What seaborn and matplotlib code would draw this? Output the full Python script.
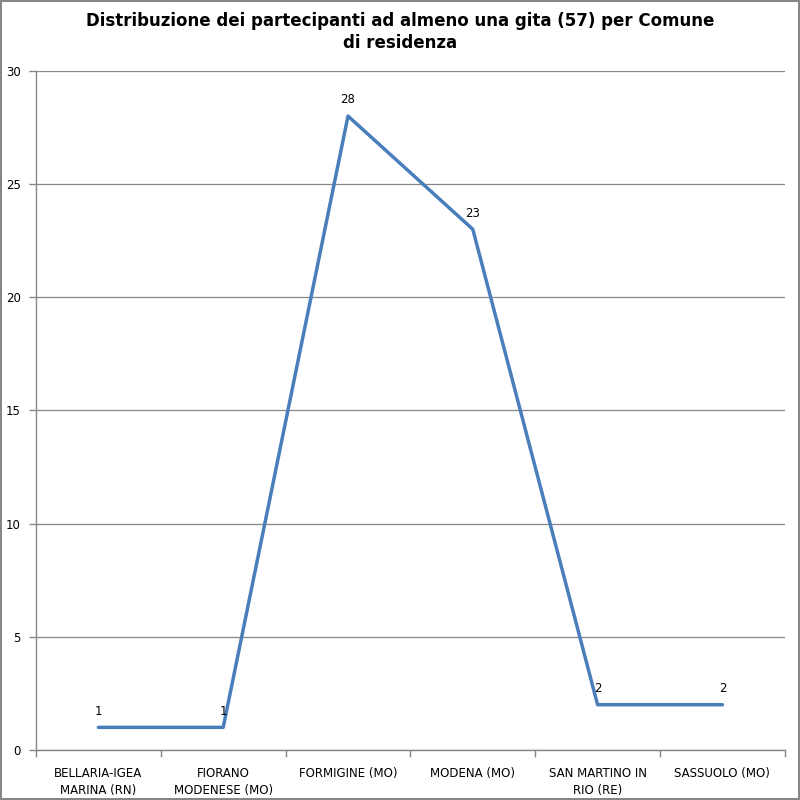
import seaborn as sns
import matplotlib.pyplot as plt
import numpy as np
import pandas as pd

# dati
comuni = ['BELLARIA-IGEA\nMARINA (RN)', 'FIORANO\nMODENESE (MO)', 'FORMIGINE (MO)',
          'MODENA (MO)', 'SAN MARTINO IN\nRIO (RE)', 'SASSUOLO (MO)']
partecipanti = [1, 1, 28, 23, 2, 2]
y_ticks = [0, 5, 10, 15, 20, 25, 30]

titolo = 'Distribuzione dei partecipanti ad almeno una gita (57) per Comune\ndi residenza'

sns.set_style('white')
plt.rcParams['font.family'] = ['DejaVu Sans']
plt.rcParams['text.color'] = 'black'
plt.rcParams['xtick.color'] = 'black'
plt.rcParams['ytick.color'] = 'black'

df = pd.DataFrame({'pos': np.arange(len(comuni)), 'valore': partecipanti})

fig = plt.figure(figsize=(8, 8), dpi=100)
fig.patch.set_edgecolor('#868686')
fig.patch.set_linewidth(1.5)
ax = fig.add_axes([0.045, 0.0625, 0.936, 0.849])

sns.lineplot(data=df, x='pos', y='valore', ax=ax, color='#4a7ebb', linewidth=2.5,
             sort=False)

# etichette dei valori
for x, y in zip(df['pos'], df['valore']):
    ax.annotate(f'{y}', xy=(x, y), xytext=(0, 7), textcoords='offset points',
                ha='center', va='bottom', fontsize=8.5, color='black')

ax.set_xlim(-0.5, len(comuni) - 0.5)
ax.set_ylim(0, 30)
ax.set_yticks(y_ticks)
ax.set_xticks(df['pos'])
ax.set_xticklabels(comuni, fontsize=8.5, linespacing=1.4)
ax.set_xticks(np.arange(-0.5, len(comuni)), minor=True)
ax.tick_params(axis='x', which='both', bottom=True)
ax.tick_params(axis='x', which='major', length=0, pad=12)
ax.tick_params(axis='x', which='minor', length=5, color='#868686', width=1)
ax.tick_params(axis='y', left=True, length=5, color='#868686', width=1,
               labelsize=8.5, labelcolor='black', pad=6)
ax.tick_params(axis='x', labelcolor='black')
ax.yaxis.grid(True, color='#868686', linewidth=0.9)
ax.set_axisbelow(True)
ax.set_xlabel('')
ax.set_ylabel('')

for side in ['top', 'right']:
    ax.spines[side].set_visible(False)
for side in ['left', 'bottom']:
    ax.spines[side].set_color('#868686')
    ax.spines[side].set_linewidth(1)

fig.suptitle(titolo, fontsize=12, fontweight='bold', y=0.985, linespacing=1.25,
             color='black')

plt.savefig('out.png', dpi=100)
